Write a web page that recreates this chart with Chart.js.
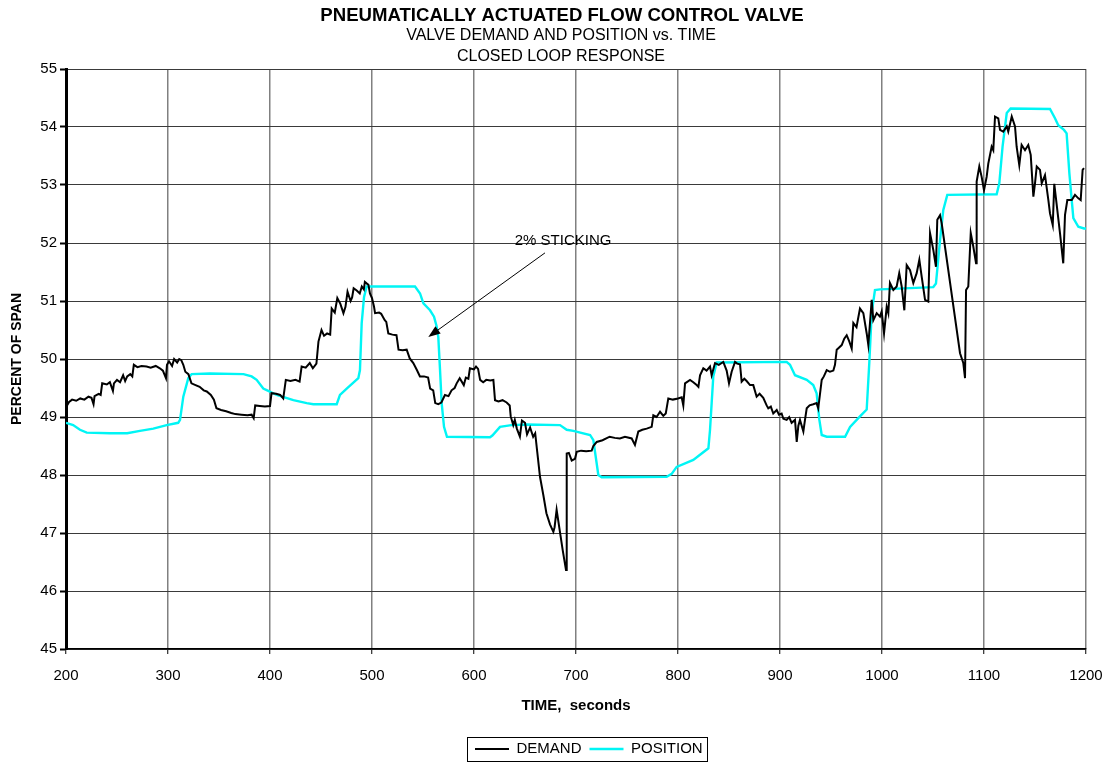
<!DOCTYPE html>
<html>
<head>
<meta charset="utf-8">
<title>Pneumatically Actuated Flow Control Valve</title>
<script src="https://cdn.jsdelivr.net/npm/chart.js@4.4.1/dist/chart.umd.min.js"></script>
<style>
  html, body { margin: 0; padding: 0; background: #ffffff; }
  #c { display: block; }
</style>
</head>
<body>
<canvas id="c" width="1107" height="763"></canvas>
<script>
const FONT = '"Liberation Sans", Arial, Helvetica, sans-serif';

// Valve demand signal, percent of span, sampled against time in seconds
const demandTime = [
  200, 201, 203, 206, 210, 214, 218, 222, 225, 227, 228, 232, 234, 235.5, 240, 243, 246, 247, 250, 253,
  256, 258, 260, 263, 265, 266.5, 270, 274, 279, 283, 288, 292, 295, 298, 299, 301, 304, 306, 309, 311,
  313, 315, 317, 320, 323, 327, 331, 335, 338, 342, 345, 347.5, 352, 357, 362, 366, 372, 378, 382, 384,
  385.5, 390, 395, 400, 401.5, 406, 410, 413, 415.5, 420, 425, 429, 431, 435, 439, 442, 445.5, 447.5, 450.5, 453,
  456, 459, 460.5, 463.5, 466, 469, 472, 474, 476, 479, 480.5, 482, 485, 488, 490, 492, 493, 495, 496.5, 498,
  500, 502, 503, 507, 509, 512.5, 514, 516, 520, 524, 526, 530, 534, 537, 540.5, 544, 547, 551, 555, 557,
  560, 562, 565, 568, 571.5, 575, 578, 581, 583, 586, 590, 592, 594.5, 596, 600, 602, 604, 606, 609, 612,
  616, 619, 620.6, 624, 628, 632, 635, 636, 638.5, 640, 642, 645, 647, 650, 652, 655, 658, 660, 662, 664.7,
  668, 671, 674.5, 677.8, 679, 681, 684, 687, 690.2, 690.9, 693, 695.8, 699, 700.7, 705, 710, 715.4, 717, 720.3, 726,
  733, 738, 743, 748, 754.6, 757.8, 761.1, 765, 769.3, 774.2, 775.8, 779, 782.4, 785.6, 788, 790.5, 795, 800, 803.6, 805.2,
  806.9, 811.8, 815, 818.3, 820, 821.6, 824.8, 828, 831.4, 833, 836.3, 840, 844.4, 847.7, 850, 852.6, 855.9, 858, 860.8, 862.4,
  865, 867.3, 870.6, 873.8, 877.1, 880, 883.6, 886.9, 888.5, 891, 893.4, 896.8, 899, 901.6, 903.3, 906.5, 909, 911.4, 914.7, 916.4,
  918, 919.6, 922.9, 924.5, 926.2, 929, 932.6, 935.9, 937.5, 940.9, 943, 945.8, 949, 952.3, 953.9, 955.6, 958, 960.5, 963, 965.4,
  968, 970.3, 971.9, 975, 978.4, 981.7, 985, 986.6, 989.9, 991.5, 994.8, 998, 999.7, 1002, 1004.6, 1006.2, 1007.8, 1011.1, 1014.4, 1016.9,
  1019.3, 1021.9, 1024.2, 1027.5, 1030.7, 1034, 1036.6, 1038.9, 1042.2, 1045.4, 1047.1, 1050.3, 1052.9, 1054.2, 1056.9, 1058.5, 1076.5, 1079.7, 1081.4, 1082.4,
  1084.6, 1087, 1089.5, 1092.2, 1092.8, 1095.4, 1097.7, 1100, 1102.6, 1104.2, 1107.5, 1109.1, 1110.8, 1114, 1115.7, 1118.9, 1122.3, 1123.8, 1127.2, 1130.4,
  1132, 1134.6, 1136.9, 1140.2, 1143.4, 1145.8, 1148.4, 1150, 1151.7, 1154.9, 1156.6, 1159.8, 1163.1, 1164.7, 1167.4, 1168.9, 1174.5, 1177.7, 1179.4, 1181.7,
  1186, 1189.2, 1192.5, 1194.8, 1196.7, 1198
];
const demandPct = [
  49.03, 49.20, 49.26, 49.30, 49.28, 49.32, 49.30, 49.35, 49.33, 49.22, 49.36, 49.40, 49.38, 49.58, 49.56, 49.60, 49.45, 49.58, 49.64, 49.60,
  49.72, 49.62, 49.70, 49.74, 49.70, 49.90, 49.86, 49.88, 49.87, 49.85, 49.88, 49.84, 49.80, 49.67, 49.90, 49.96, 49.88, 50.00, 49.94, 50.00,
  49.98, 49.90, 49.78, 49.74, 49.58, 49.55, 49.52, 49.46, 49.44, 49.38, 49.30, 49.15, 49.12, 49.10, 49.07, 49.05, 49.04, 49.03, 49.04, 48.98,
  49.20, 49.19, 49.18, 49.19, 49.41, 49.40, 49.38, 49.32, 49.64, 49.62, 49.64, 49.61, 49.87, 49.85, 49.93, 49.84, 49.92, 50.30, 50.50, 50.40,
  50.44, 50.42, 50.87, 50.80, 51.05, 50.95, 50.79, 50.90, 51.16, 51.00, 51.06, 51.22, 51.18, 51.13, 51.25, 51.20, 51.33, 51.30, 51.28, 51.13,
  51.05, 50.90, 50.79, 50.80, 50.78, 50.67, 50.64, 50.44, 50.42, 50.41, 50.16, 50.15, 50.16, 50.01, 49.93, 49.81, 49.70, 49.70, 49.68, 49.49,
  49.46, 49.24, 49.22, 49.25, 49.38, 49.36, 49.46, 49.50, 49.58, 49.67, 49.55, 49.68, 49.66, 49.84, 49.82, 49.87, 49.83, 49.64, 49.60, 49.64,
  49.63, 49.64, 49.29, 49.27, 49.29, 49.25, 49.20, 49.01, 48.86, 48.95, 48.80, 48.66, 48.94, 48.90, 48.70, 48.82, 48.66, 48.72, 48.40, 47.97,
  47.65, 47.34, 47.15, 47.02, 47.10, 47.40, 47.05, 46.70, 46.36, 48.37, 48.38, 48.25, 48.28, 48.40, 48.42, 48.41, 48.42, 48.50, 48.57, 48.60,
  48.66, 48.64, 48.63, 48.66, 48.63, 48.52, 48.75, 48.78, 48.80, 48.83, 49.03, 49.00, 49.09, 49.02, 49.06, 49.32, 49.30, 49.32, 49.34, 49.20,
  49.58, 49.64, 49.60, 49.55, 49.52, 49.72, 49.84, 49.80, 49.87, 49.72, 49.93, 49.90, 49.95, 49.80, 49.58, 49.78, 49.95, 49.92, 49.91, 49.61,
  49.66, 49.62, 49.55, 49.55, 49.35, 49.40, 49.33, 49.20, 49.15, 49.18, 49.06, 49.12, 49.04, 49.06, 48.97, 48.95, 49.00, 48.90, 48.95, 48.57,
  48.85, 48.95, 48.75, 48.95, 49.15, 49.20, 49.22, 49.24, 49.15, 49.64, 49.70, 49.81, 49.78, 49.80, 49.90, 50.16, 50.20, 50.24, 50.35, 50.41,
  50.30, 50.18, 50.62, 50.55, 50.87, 50.79, 50.44, 50.24, 51.02, 50.67, 50.79, 50.73, 50.82, 50.44, 50.90, 50.79, 51.31, 51.19, 51.25, 51.48,
  51.25, 50.84, 51.62, 51.53, 51.31, 51.48, 51.71, 51.42, 51.02, 50.99, 52.17, 51.88, 51.59, 52.40, 52.48, 52.34, 50.10, 49.93, 49.67, 51.19,
  51.25, 52.17, 51.94, 51.65, 53.06, 53.32, 53.14, 52.91, 53.14, 53.37, 53.66, 53.60, 54.18, 54.15, 53.95, 53.92, 54.01, 53.92, 54.18, 54.01,
  53.66, 53.34, 53.69, 53.60, 53.69, 53.52, 52.80, 53.03, 53.32, 53.26, 53.03, 53.17, 52.74, 52.51, 52.31, 53.02, 52.17, 51.65, 52.48, 52.74,
  52.74, 52.83, 52.77, 52.74, 53.26, 53.29
];

// Measured valve stem position, percent of span
const positionTime = [
  200, 207, 213.7, 220.3, 243, 260, 272.5, 285.6, 298.7, 310, 311.8, 315, 319.9, 323.2, 341, 374, 382, 386.9, 393.4, 398.3,
  406.5, 422.9, 436, 442.5, 465.4, 468.6, 475.2, 486.6, 488.2, 489.9, 492.2, 494.8, 542.2, 547.1, 550.4, 556.9, 560.8, 563.4, 565, 566.7,
  568.3, 570.6, 573.5, 615.7, 618, 625.5, 636.6, 651.6, 684.3, 690.9, 697.4, 713.8, 717, 721.9, 725.2, 788.9, 793.8, 798.7, 815, 829.8,
  831.4, 833, 834.6, 837.9, 906.5, 909.8, 914.7, 926.2, 932.6, 935.9, 938.6, 940.9, 945.8, 963.8, 968.7, 978.4, 985, 987.6, 989.9, 993.1,
  998, 1050.3, 1052.9, 1056.9, 1060.1, 1064, 1112.4, 1115, 1118.2, 1122.3, 1126.1, 1164.7, 1169.6, 1172.8, 1178.4, 1181, 1183.7, 1186, 1187.6, 1192.5,
  1198, 1200
];
const positionPct = [
  48.90, 48.86, 48.78, 48.73, 48.72, 48.72, 48.76, 48.80, 48.86, 48.90, 48.95, 49.35, 49.67, 49.74, 49.75, 49.74, 49.70, 49.64, 49.49, 49.45,
  49.38, 49.29, 49.24, 49.22, 49.22, 49.38, 49.49, 49.67, 49.81, 50.62, 51.07, 51.25, 51.25, 51.13, 50.96, 50.84, 50.73, 50.56, 50.38, 49.81,
  49.24, 48.83, 48.66, 48.65, 48.68, 48.83, 48.86, 48.87, 48.86, 48.78, 48.76, 48.69, 48.60, 48.00, 47.96, 47.97, 48.02, 48.14, 48.26, 48.46,
  48.78, 49.24, 49.70, 49.94, 49.95, 49.90, 49.72, 49.64, 49.55, 49.41, 48.95, 48.69, 48.66, 48.66, 48.83, 49.01, 49.13, 49.95, 50.80, 51.19,
  51.20, 51.24, 51.30, 52.05, 52.57, 52.83, 52.84, 53.03, 53.66, 54.24, 54.32, 54.31, 54.15, 54.03, 53.95, 53.89, 53.20, 52.74, 52.43, 52.28,
  52.25, 52.25
];

const chartTitle = 'PNEUMATICALLY ACTUATED FLOW CONTROL VALVE';
const chartSubtitles = ['VALVE DEMAND AND POSITION vs. TIME', 'CLOSED LOOP RESPONSE'];

// Callout for the stick-slip region: label anchor and arrow, in (seconds, percent) units
const stickingNote = {
  text: '2% STICKING',
  at: [687.3, 52.03],
  from: [669.6, 51.83],
  to: [555.2, 50.38]
};

function pairs(xs, ys) {
  return xs.map((x, i) => ({ x: x, y: ys[i] }));
}

// Three-line heading above the plot
const headerPlugin = {
  id: 'header',
  afterDraw(chart) {
    const ctx = chart.ctx;
    ctx.save();
    ctx.fillStyle = '#000';
    ctx.textAlign = 'center';
    ctx.textBaseline = 'middle';
    ctx.font = 'bold 18.6px ' + FONT;
    ctx.fillText(chartTitle, 562, 16);
    ctx.font = '16px ' + FONT;
    ctx.fillText(chartSubtitles[0], 561, 36);
    ctx.fillText(chartSubtitles[1], 561, 57);
    ctx.restore();
  }
};

// Text label with an arrow pointing at the sticking step
const notePlugin = {
  id: 'stickingNote',
  afterDatasetsDraw(chart) {
    const ctx = chart.ctx;
    const xs = chart.scales.x, ys = chart.scales.y;
    const px = p => [xs.getPixelForValue(p[0]), ys.getPixelForValue(p[1])];
    const [tx, ty] = px(stickingNote.at);
    const [x0, y0] = px(stickingNote.from);
    const [x1, y1] = px(stickingNote.to);
    ctx.save();
    ctx.fillStyle = '#000';
    ctx.font = '15px ' + FONT;
    ctx.textAlign = 'center';
    ctx.textBaseline = 'middle';
    ctx.fillText(stickingNote.text, tx, ty);
    const ang = Math.atan2(y1 - y0, x1 - x0);
    const head = 12, half = 4.5;
    const bx = x1 - head * Math.cos(ang), by = y1 - head * Math.sin(ang);
    ctx.strokeStyle = '#000';
    ctx.lineWidth = 1;
    ctx.beginPath();
    ctx.moveTo(x0, y0);
    ctx.lineTo(bx, by);
    ctx.stroke();
    ctx.beginPath();
    ctx.moveTo(x1, y1);
    ctx.lineTo(bx + half * Math.sin(ang), by - half * Math.cos(ang));
    ctx.lineTo(bx - half * Math.sin(ang), by + half * Math.cos(ang));
    ctx.closePath();
    ctx.fill();
    ctx.restore();
  }
};

// Places the legend row and frames it with a thin box
const legendFramePlugin = {
  id: 'legendFrame',
  afterLayout(chart) {
    const lg = chart.legend;
    if (!lg || !lg.lineWidths) return;
    const pad = lg.options.labels.padding;
    const w = lg.lineWidths[0];
    const firstItemX = 475;
    lg.left = 2 * firstItemX - pad - lg.right + w;
    lg.width = lg.right - lg.left;
    lg.top += 3.5;
    lg.bottom += 3.5;
  },
  afterDraw(chart) {
    const lg = chart.legend;
    const hb = lg && lg.legendHitBoxes;
    if (!hb || !hb.length) return;
    const last = hb[hb.length - 1];
    const l = Math.round(hb[0].left - 8) + 0.5;
    const r = Math.round(last.left + last.width + 4) + 0.5;
    const t = Math.round(hb[0].top - 4.5) + 0.5;
    const b = chart.height - 1.5;
    const ctx = chart.ctx;
    ctx.save();
    ctx.strokeStyle = '#000';
    ctx.lineWidth = 1;
    ctx.strokeRect(l, t, r - l, b - t);
    ctx.restore();
  }
};

Chart.defaults.font.family = FONT;
Chart.defaults.color = '#000';

new Chart(document.getElementById('c'), {
  type: 'line',
  data: {
    datasets: [
      {
        label: 'DEMAND',
        data: pairs(demandTime, demandPct),
        borderColor: '#000000',
        backgroundColor: '#000000',
        borderWidth: 2,
        pointRadius: 0,
        tension: 0,
        fill: false
      },
      {
        label: 'POSITION',
        data: pairs(positionTime, positionPct),
        borderColor: '#00F5F5',
        backgroundColor: '#00F5F5',
        borderWidth: 2.4,
        pointRadius: 0,
        tension: 0,
        fill: false
      }
    ]
  },
  options: {
    responsive: false,
    animation: false,
    devicePixelRatio: 1,
    layout: { padding: { left: 0, right: 21, top: 69, bottom: 0 } },
    plugins: {
      title: { display: false },
      tooltip: { enabled: false },
      legend: {
        display: true,
        position: 'bottom',
        labels: {
          usePointStyle: true,
          pointStyle: 'line',
          pointStyleWidth: 34,
          padding: 8,
          color: '#000',
          font: { size: 15 }
        }
      }
    },
    scales: {
      x: {
        type: 'linear',
        min: 200,
        max: 1200,
        ticks: {
          stepSize: 100,
          autoSkip: false,
          maxRotation: 0,
          padding: 13,
          color: '#000',
          font: { size: 15 },
          callback: v => String(v)
        },
        grid: {
          color: '#808080',
          lineWidth: 1.5,
          drawTicks: true,
          tickLength: 5,
          tickColor: '#000',
          tickWidth: 1
        },
        border: { display: true, color: '#000', width: 1.5 },
        title: {
          display: true,
          text: 'TIME,  seconds',
          color: '#000',
          font: { size: 15, weight: 'bold' },
          padding: { top: 0, bottom: 15 }
        },
        afterFit(scale) {
          scale.height = 81;
          // end labels fit inside the layout padding already
          scale.paddingLeft = 0;
          scale.paddingRight = 0;
        }
      },
      y: {
        type: 'linear',
        min: 45,
        max: 55,
        ticks: {
          stepSize: 1,
          padding: 3,
          color: '#000',
          font: { size: 15 },
          callback: v => String(v)
        },
        grid: {
          color: '#3a3a3a',
          lineWidth: 1,
          drawTicks: true,
          tickLength: 6,
          tickColor: '#000',
          tickWidth: 2
        },
        border: { display: true, color: '#000', width: 3 },
        title: {
          display: true,
          text: 'PERCENT OF SPAN',
          color: '#000',
          font: { size: 14, weight: 'bold' },
          padding: { top: 8.6, bottom: 0 }
        },
        afterFit(scale) { scale.width = 66; }
      }
    }
  },
  plugins: [headerPlugin, notePlugin, legendFramePlugin]
});
</script>
</body>
</html>
